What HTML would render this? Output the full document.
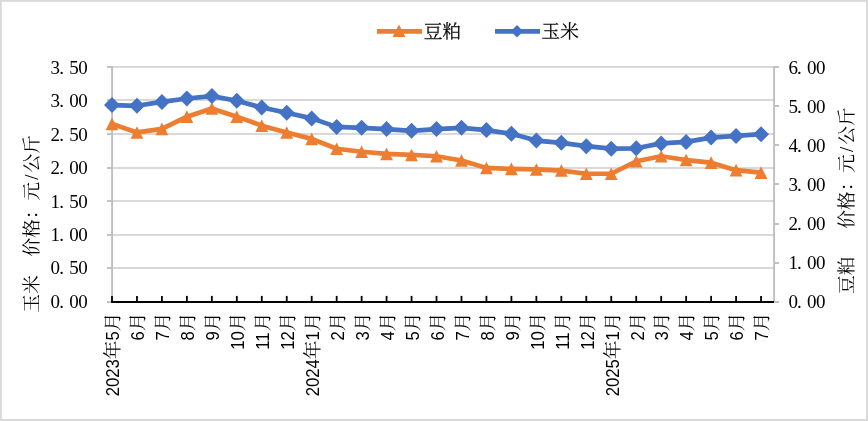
<!DOCTYPE html>
<html lang="zh-CN"><head><meta charset="utf-8"><title>豆粕 玉米 价格</title>
<style>html,body{margin:0;padding:0;background:#fff}body{width:868px;height:421px;overflow:hidden}svg{display:block}.n{font-family:"Liberation Serif","Noto Serif CJK SC",serif;font-size:19.0px;fill:#000}.c{font-family:"Liberation Serif","Noto Serif CJK SC",serif;font-size:18.67px;fill:#000}.x{font-family:"Liberation Sans","Noto Serif CJK SC",sans-serif;font-size:18.67px;fill:#000}</style></head><body>
<svg width="868" height="421" viewBox="0 0 868 421">
<rect x="0" y="0" width="868" height="421" fill="#d9d9d9"/>
<rect x="1.8" y="1.8" width="864.25" height="417.25" fill="#fff"/>
<line x1="112.00" y1="67.00" x2="774.10" y2="67.00" stroke="#d9d9d9" stroke-width="1.9"/>
<line x1="112.00" y1="100.00" x2="774.10" y2="100.00" stroke="#d9d9d9" stroke-width="1.9"/>
<line x1="112.00" y1="134.00" x2="774.10" y2="134.00" stroke="#d9d9d9" stroke-width="1.9"/>
<line x1="112.00" y1="168.00" x2="774.10" y2="168.00" stroke="#d9d9d9" stroke-width="1.9"/>
<line x1="112.00" y1="201.00" x2="774.10" y2="201.00" stroke="#d9d9d9" stroke-width="1.9"/>
<line x1="112.00" y1="235.00" x2="774.10" y2="235.00" stroke="#d9d9d9" stroke-width="1.9"/>
<line x1="112.00" y1="268.00" x2="774.10" y2="268.00" stroke="#d9d9d9" stroke-width="1.9"/>
<line x1="112.10" y1="66.00" x2="112.10" y2="302.00" stroke="#bfbfbf" stroke-width="1.9"/>
<line x1="107.00" y1="67.00" x2="112.00" y2="67.00" stroke="#bfbfbf" stroke-width="1.9"/>
<line x1="107.00" y1="100.00" x2="112.00" y2="100.00" stroke="#bfbfbf" stroke-width="1.9"/>
<line x1="107.00" y1="134.00" x2="112.00" y2="134.00" stroke="#bfbfbf" stroke-width="1.9"/>
<line x1="107.00" y1="168.00" x2="112.00" y2="168.00" stroke="#bfbfbf" stroke-width="1.9"/>
<line x1="107.00" y1="201.00" x2="112.00" y2="201.00" stroke="#bfbfbf" stroke-width="1.9"/>
<line x1="107.00" y1="235.00" x2="112.00" y2="235.00" stroke="#bfbfbf" stroke-width="1.9"/>
<line x1="107.00" y1="268.00" x2="112.00" y2="268.00" stroke="#bfbfbf" stroke-width="1.9"/>
<line x1="107.00" y1="302.00" x2="112.00" y2="302.00" stroke="#bfbfbf" stroke-width="1.9"/>
<line x1="774.10" y1="66.00" x2="774.10" y2="302.00" stroke="#bfbfbf" stroke-width="1.9"/>
<line x1="774.10" y1="67.00" x2="779.00" y2="67.00" stroke="#bfbfbf" stroke-width="1.9"/>
<line x1="774.10" y1="106.00" x2="779.00" y2="106.00" stroke="#bfbfbf" stroke-width="1.9"/>
<line x1="774.10" y1="145.00" x2="779.00" y2="145.00" stroke="#bfbfbf" stroke-width="1.9"/>
<line x1="774.10" y1="184.00" x2="779.00" y2="184.00" stroke="#bfbfbf" stroke-width="1.9"/>
<line x1="774.10" y1="224.00" x2="779.00" y2="224.00" stroke="#bfbfbf" stroke-width="1.9"/>
<line x1="774.10" y1="263.00" x2="779.00" y2="263.00" stroke="#bfbfbf" stroke-width="1.9"/>
<line x1="774.10" y1="302.00" x2="779.00" y2="302.00" stroke="#bfbfbf" stroke-width="1.9"/>
<line x1="111.10" y1="302.00" x2="774.00" y2="302.00" stroke="#000" stroke-width="1.8"/>
<line x1="112.00" y1="295.90" x2="112.00" y2="302.00" stroke="#000" stroke-width="1.8"/>
<line x1="136.96" y1="295.90" x2="136.96" y2="302.00" stroke="#000" stroke-width="1.8"/>
<line x1="161.93" y1="295.90" x2="161.93" y2="302.00" stroke="#000" stroke-width="1.8"/>
<line x1="186.89" y1="295.90" x2="186.89" y2="302.00" stroke="#000" stroke-width="1.8"/>
<line x1="211.85" y1="295.90" x2="211.85" y2="302.00" stroke="#000" stroke-width="1.8"/>
<line x1="236.81" y1="295.90" x2="236.81" y2="302.00" stroke="#000" stroke-width="1.8"/>
<line x1="261.78" y1="295.90" x2="261.78" y2="302.00" stroke="#000" stroke-width="1.8"/>
<line x1="286.74" y1="295.90" x2="286.74" y2="302.00" stroke="#000" stroke-width="1.8"/>
<line x1="311.70" y1="295.90" x2="311.70" y2="302.00" stroke="#000" stroke-width="1.8"/>
<line x1="336.67" y1="295.90" x2="336.67" y2="302.00" stroke="#000" stroke-width="1.8"/>
<line x1="361.63" y1="295.90" x2="361.63" y2="302.00" stroke="#000" stroke-width="1.8"/>
<line x1="386.59" y1="295.90" x2="386.59" y2="302.00" stroke="#000" stroke-width="1.8"/>
<line x1="411.56" y1="295.90" x2="411.56" y2="302.00" stroke="#000" stroke-width="1.8"/>
<line x1="436.52" y1="295.90" x2="436.52" y2="302.00" stroke="#000" stroke-width="1.8"/>
<line x1="461.48" y1="295.90" x2="461.48" y2="302.00" stroke="#000" stroke-width="1.8"/>
<line x1="486.44" y1="295.90" x2="486.44" y2="302.00" stroke="#000" stroke-width="1.8"/>
<line x1="511.41" y1="295.90" x2="511.41" y2="302.00" stroke="#000" stroke-width="1.8"/>
<line x1="536.37" y1="295.90" x2="536.37" y2="302.00" stroke="#000" stroke-width="1.8"/>
<line x1="561.33" y1="295.90" x2="561.33" y2="302.00" stroke="#000" stroke-width="1.8"/>
<line x1="586.30" y1="295.90" x2="586.30" y2="302.00" stroke="#000" stroke-width="1.8"/>
<line x1="611.26" y1="295.90" x2="611.26" y2="302.00" stroke="#000" stroke-width="1.8"/>
<line x1="636.22" y1="295.90" x2="636.22" y2="302.00" stroke="#000" stroke-width="1.8"/>
<line x1="661.19" y1="295.90" x2="661.19" y2="302.00" stroke="#000" stroke-width="1.8"/>
<line x1="686.15" y1="295.90" x2="686.15" y2="302.00" stroke="#000" stroke-width="1.8"/>
<line x1="711.11" y1="295.90" x2="711.11" y2="302.00" stroke="#000" stroke-width="1.8"/>
<line x1="736.08" y1="295.90" x2="736.08" y2="302.00" stroke="#000" stroke-width="1.8"/>
<line x1="761.04" y1="295.90" x2="761.04" y2="302.00" stroke="#000" stroke-width="1.8"/>
<polyline points="112.00,123.85 136.96,132.45 161.93,128.85 186.89,116.65 211.85,108.55 236.81,116.65 261.78,125.65 286.74,132.45 311.70,138.85 336.67,148.75 361.63,151.75 386.59,153.85 411.56,154.95 436.52,156.25 461.48,160.45 486.44,167.95 511.41,168.85 536.37,169.45 561.33,170.55 586.30,173.75 611.26,173.75 636.22,161.25 661.19,156.25 686.15,160.05 711.11,162.65 736.08,170.15 761.04,172.65" fill="none" stroke="#ed7d31" stroke-width="4.70" stroke-linejoin="round" stroke-linecap="round"/>
<polygon points="112.00,117.55 118.40,130.15 105.60,130.15" fill="#ed7d31"/>
<polygon points="136.96,126.15 143.36,138.75 130.56,138.75" fill="#ed7d31"/>
<polygon points="161.93,122.55 168.33,135.15 155.53,135.15" fill="#ed7d31"/>
<polygon points="186.89,110.35 193.29,122.95 180.49,122.95" fill="#ed7d31"/>
<polygon points="211.85,102.25 218.25,114.85 205.45,114.85" fill="#ed7d31"/>
<polygon points="236.81,110.35 243.22,122.95 230.41,122.95" fill="#ed7d31"/>
<polygon points="261.78,119.35 268.18,131.95 255.38,131.95" fill="#ed7d31"/>
<polygon points="286.74,126.15 293.14,138.75 280.34,138.75" fill="#ed7d31"/>
<polygon points="311.70,132.55 318.10,145.15 305.30,145.15" fill="#ed7d31"/>
<polygon points="336.67,142.45 343.07,155.05 330.27,155.05" fill="#ed7d31"/>
<polygon points="361.63,145.45 368.03,158.05 355.23,158.05" fill="#ed7d31"/>
<polygon points="386.59,147.55 392.99,160.15 380.19,160.15" fill="#ed7d31"/>
<polygon points="411.56,148.65 417.96,161.25 405.16,161.25" fill="#ed7d31"/>
<polygon points="436.52,149.95 442.92,162.55 430.12,162.55" fill="#ed7d31"/>
<polygon points="461.48,154.15 467.88,166.75 455.08,166.75" fill="#ed7d31"/>
<polygon points="486.44,161.65 492.84,174.25 480.05,174.25" fill="#ed7d31"/>
<polygon points="511.41,162.55 517.81,175.15 505.01,175.15" fill="#ed7d31"/>
<polygon points="536.37,163.15 542.77,175.75 529.97,175.75" fill="#ed7d31"/>
<polygon points="561.33,164.25 567.73,176.85 554.93,176.85" fill="#ed7d31"/>
<polygon points="586.30,167.45 592.70,180.05 579.90,180.05" fill="#ed7d31"/>
<polygon points="611.26,167.45 617.66,180.05 604.86,180.05" fill="#ed7d31"/>
<polygon points="636.22,154.95 642.62,167.55 629.82,167.55" fill="#ed7d31"/>
<polygon points="661.19,149.95 667.59,162.55 654.79,162.55" fill="#ed7d31"/>
<polygon points="686.15,153.75 692.55,166.35 679.75,166.35" fill="#ed7d31"/>
<polygon points="711.11,156.35 717.51,168.95 704.71,168.95" fill="#ed7d31"/>
<polygon points="736.08,163.85 742.48,176.45 729.68,176.45" fill="#ed7d31"/>
<polygon points="761.04,166.35 767.44,178.95 754.64,178.95" fill="#ed7d31"/>
<polyline points="112.00,105.10 136.96,105.80 161.93,101.90 186.89,98.50 211.85,96.10 236.81,100.80 261.78,107.50 286.74,112.80 311.70,118.40 336.67,126.90 361.63,127.80 386.59,129.10 411.56,130.80 436.52,129.10 461.48,127.80 486.44,130.10 511.41,133.80 536.37,140.60 561.33,142.80 586.30,146.20 611.26,148.70 636.22,148.30 661.19,143.40 686.15,141.90 711.11,137.60 736.08,135.90 761.04,134.20" fill="none" stroke="#4472c4" stroke-width="4.70" stroke-linejoin="round" stroke-linecap="round"/>
<polygon points="112.00,97.10 120.00,105.10 112.00,113.10 104.00,105.10" fill="#4472c4"/>
<polygon points="136.96,97.80 144.96,105.80 136.96,113.80 128.96,105.80" fill="#4472c4"/>
<polygon points="161.93,93.90 169.93,101.90 161.93,109.90 153.93,101.90" fill="#4472c4"/>
<polygon points="186.89,90.50 194.89,98.50 186.89,106.50 178.89,98.50" fill="#4472c4"/>
<polygon points="211.85,88.10 219.85,96.10 211.85,104.10 203.85,96.10" fill="#4472c4"/>
<polygon points="236.81,92.80 244.81,100.80 236.81,108.80 228.81,100.80" fill="#4472c4"/>
<polygon points="261.78,99.50 269.78,107.50 261.78,115.50 253.78,107.50" fill="#4472c4"/>
<polygon points="286.74,104.80 294.74,112.80 286.74,120.80 278.74,112.80" fill="#4472c4"/>
<polygon points="311.70,110.40 319.70,118.40 311.70,126.40 303.70,118.40" fill="#4472c4"/>
<polygon points="336.67,118.90 344.67,126.90 336.67,134.90 328.67,126.90" fill="#4472c4"/>
<polygon points="361.63,119.80 369.63,127.80 361.63,135.80 353.63,127.80" fill="#4472c4"/>
<polygon points="386.59,121.10 394.59,129.10 386.59,137.10 378.59,129.10" fill="#4472c4"/>
<polygon points="411.56,122.80 419.56,130.80 411.56,138.80 403.56,130.80" fill="#4472c4"/>
<polygon points="436.52,121.10 444.52,129.10 436.52,137.10 428.52,129.10" fill="#4472c4"/>
<polygon points="461.48,119.80 469.48,127.80 461.48,135.80 453.48,127.80" fill="#4472c4"/>
<polygon points="486.44,122.10 494.44,130.10 486.44,138.10 478.44,130.10" fill="#4472c4"/>
<polygon points="511.41,125.80 519.41,133.80 511.41,141.80 503.41,133.80" fill="#4472c4"/>
<polygon points="536.37,132.60 544.37,140.60 536.37,148.60 528.37,140.60" fill="#4472c4"/>
<polygon points="561.33,134.80 569.33,142.80 561.33,150.80 553.33,142.80" fill="#4472c4"/>
<polygon points="586.30,138.20 594.30,146.20 586.30,154.20 578.30,146.20" fill="#4472c4"/>
<polygon points="611.26,140.70 619.26,148.70 611.26,156.70 603.26,148.70" fill="#4472c4"/>
<polygon points="636.22,140.30 644.22,148.30 636.22,156.30 628.22,148.30" fill="#4472c4"/>
<polygon points="661.19,135.40 669.19,143.40 661.19,151.40 653.19,143.40" fill="#4472c4"/>
<polygon points="686.15,133.90 694.15,141.90 686.15,149.90 678.15,141.90" fill="#4472c4"/>
<polygon points="711.11,129.60 719.11,137.60 711.11,145.60 703.11,137.60" fill="#4472c4"/>
<polygon points="736.08,127.90 744.08,135.90 736.08,143.90 728.08,135.90" fill="#4472c4"/>
<polygon points="761.04,126.20 769.04,134.20 761.04,142.20 753.04,134.20" fill="#4472c4"/>
<line x1="377" y1="31.4" x2="422" y2="31.4" stroke="#ed7d31" stroke-width="4.8"/>
<polygon points="399.00,24.50 405.40,37.00 392.60,37.00" fill="#ed7d31"/>
<line x1="495.0" y1="31.4" x2="540" y2="31.4" stroke="#4472c4" stroke-width="4.8"/>
<polygon points="517.00,25.00 523.20,31.20 517.00,37.40 510.80,31.20" fill="#4472c4"/>
<text class="c" x="423.8" y="38" font-weight="300" stroke="#000" stroke-width="0.3">豆粕</text>
<text class="c" x="541.5" y="38" font-weight="300" stroke="#000" stroke-width="0.3">玉米</text>
<text class="n" x="50.60 59.15 69.30 78.25" y="73.95">3.50</text>
<text class="n" x="50.60 59.15 69.30 78.25" y="107.37">3.00</text>
<text class="n" x="50.60 59.15 69.30 78.25" y="140.79">2.50</text>
<text class="n" x="50.60 59.15 69.30 78.25" y="174.21">2.00</text>
<text class="n" x="50.60 59.15 69.30 78.25" y="207.63">1.50</text>
<text class="n" x="50.60 59.15 69.30 78.25" y="241.05">1.00</text>
<text class="n" x="50.60 59.15 69.30 78.25" y="274.47">0.50</text>
<text class="n" x="50.60 59.15 69.30 78.25" y="307.89">0.00</text>
<text class="n" x="788.40 796.95 807.10 816.05" y="73.95">6.00</text>
<text class="n" x="788.40 796.95 807.10 816.05" y="112.95">5.00</text>
<text class="n" x="788.40 796.95 807.10 816.05" y="151.95">4.00</text>
<text class="n" x="788.40 796.95 807.10 816.05" y="190.95">3.00</text>
<text class="n" x="788.40 796.95 807.10 816.05" y="229.95">2.00</text>
<text class="n" x="788.40 796.95 807.10 816.05" y="268.95">1.00</text>
<text class="n" x="788.40 796.95 807.10 816.05" y="307.95">0.00</text>
<g transform="translate(119.30,312.50) rotate(-90)"><text class="x" transform="translate(-83.79,0) scale(0.895,1)">2023</text><text class="c" x="-46.63" y="0.00">年</text><text class="x" transform="translate(-27.96,0) scale(0.895,1)">5</text><text class="c" x="-18.67" y="0.00">月</text></g>
<g transform="translate(144.26,312.50) rotate(-90)"><text class="x" transform="translate(-27.96,0) scale(0.895,1)">6</text><text class="c" x="-18.67" y="0.00">月</text></g>
<g transform="translate(169.23,312.50) rotate(-90)"><text class="x" transform="translate(-27.96,0) scale(0.895,1)">7</text><text class="c" x="-18.67" y="0.00">月</text></g>
<g transform="translate(194.19,312.50) rotate(-90)"><text class="x" transform="translate(-27.96,0) scale(0.895,1)">8</text><text class="c" x="-18.67" y="0.00">月</text></g>
<g transform="translate(219.15,312.50) rotate(-90)"><text class="x" transform="translate(-27.96,0) scale(0.895,1)">9</text><text class="c" x="-18.67" y="0.00">月</text></g>
<g transform="translate(244.12,312.50) rotate(-90)"><text class="x" transform="translate(-37.25,0) scale(0.895,1)">10</text><text class="c" x="-18.67" y="0.00">月</text></g>
<g transform="translate(269.08,312.50) rotate(-90)"><text class="x" transform="translate(-37.25,0) scale(0.895,1)">11</text><text class="c" x="-18.67" y="0.00">月</text></g>
<g transform="translate(294.04,312.50) rotate(-90)"><text class="x" transform="translate(-37.25,0) scale(0.895,1)">12</text><text class="c" x="-18.67" y="0.00">月</text></g>
<g transform="translate(319.00,312.50) rotate(-90)"><text class="x" transform="translate(-83.79,0) scale(0.895,1)">2024</text><text class="c" x="-46.63" y="0.00">年</text><text class="x" transform="translate(-27.96,0) scale(0.895,1)">1</text><text class="c" x="-18.67" y="0.00">月</text></g>
<g transform="translate(343.97,312.50) rotate(-90)"><text class="x" transform="translate(-27.96,0) scale(0.895,1)">2</text><text class="c" x="-18.67" y="0.00">月</text></g>
<g transform="translate(368.93,312.50) rotate(-90)"><text class="x" transform="translate(-27.96,0) scale(0.895,1)">3</text><text class="c" x="-18.67" y="0.00">月</text></g>
<g transform="translate(393.89,312.50) rotate(-90)"><text class="x" transform="translate(-27.96,0) scale(0.895,1)">4</text><text class="c" x="-18.67" y="0.00">月</text></g>
<g transform="translate(418.86,312.50) rotate(-90)"><text class="x" transform="translate(-27.96,0) scale(0.895,1)">5</text><text class="c" x="-18.67" y="0.00">月</text></g>
<g transform="translate(443.82,312.50) rotate(-90)"><text class="x" transform="translate(-27.96,0) scale(0.895,1)">6</text><text class="c" x="-18.67" y="0.00">月</text></g>
<g transform="translate(468.78,312.50) rotate(-90)"><text class="x" transform="translate(-27.96,0) scale(0.895,1)">7</text><text class="c" x="-18.67" y="0.00">月</text></g>
<g transform="translate(493.75,312.50) rotate(-90)"><text class="x" transform="translate(-27.96,0) scale(0.895,1)">8</text><text class="c" x="-18.67" y="0.00">月</text></g>
<g transform="translate(518.71,312.50) rotate(-90)"><text class="x" transform="translate(-27.96,0) scale(0.895,1)">9</text><text class="c" x="-18.67" y="0.00">月</text></g>
<g transform="translate(543.67,312.50) rotate(-90)"><text class="x" transform="translate(-37.25,0) scale(0.895,1)">10</text><text class="c" x="-18.67" y="0.00">月</text></g>
<g transform="translate(568.63,312.50) rotate(-90)"><text class="x" transform="translate(-37.25,0) scale(0.895,1)">11</text><text class="c" x="-18.67" y="0.00">月</text></g>
<g transform="translate(593.60,312.50) rotate(-90)"><text class="x" transform="translate(-37.25,0) scale(0.895,1)">12</text><text class="c" x="-18.67" y="0.00">月</text></g>
<g transform="translate(618.56,312.50) rotate(-90)"><text class="x" transform="translate(-83.79,0) scale(0.895,1)">2025</text><text class="c" x="-46.63" y="0.00">年</text><text class="x" transform="translate(-27.96,0) scale(0.895,1)">1</text><text class="c" x="-18.67" y="0.00">月</text></g>
<g transform="translate(643.52,312.50) rotate(-90)"><text class="x" transform="translate(-27.96,0) scale(0.895,1)">2</text><text class="c" x="-18.67" y="0.00">月</text></g>
<g transform="translate(668.49,312.50) rotate(-90)"><text class="x" transform="translate(-27.96,0) scale(0.895,1)">3</text><text class="c" x="-18.67" y="0.00">月</text></g>
<g transform="translate(693.45,312.50) rotate(-90)"><text class="x" transform="translate(-27.96,0) scale(0.895,1)">4</text><text class="c" x="-18.67" y="0.00">月</text></g>
<g transform="translate(718.41,312.50) rotate(-90)"><text class="x" transform="translate(-27.96,0) scale(0.895,1)">5</text><text class="c" x="-18.67" y="0.00">月</text></g>
<g transform="translate(743.38,312.50) rotate(-90)"><text class="x" transform="translate(-27.96,0) scale(0.895,1)">6</text><text class="c" x="-18.67" y="0.00">月</text></g>
<g transform="translate(768.34,312.50) rotate(-90)"><text class="x" transform="translate(-27.96,0) scale(0.895,1)">7</text><text class="c" x="-18.67" y="0.00">月</text></g>
<text class="c" transform="translate(37.60,312.50) rotate(-90)" x="0.00 18.67 37.34 46.68 56.01 74.68 93.35 112.02 132.76 140.03 158.69" y="0" xml:space="preserve">玉米  价格：元/公斤</text>
<text class="c" transform="translate(853.40,294.00) rotate(-90)" x="0.00 18.67 37.34 46.68 56.01 65.34 84.02 102.69 121.36 142.10 149.36 168.03" y="0" xml:space="preserve">豆粕   价格：元/公斤</text>
</svg></body></html>
